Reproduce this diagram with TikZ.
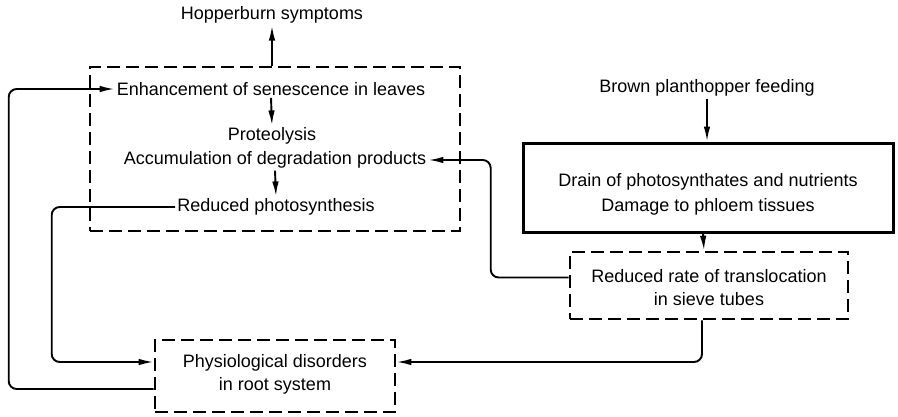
\documentclass[tikz,border=0pt]{standalone}
\usepackage{fontspec}
\setmainfont{Liberation Sans}
\usetikzlibrary{arrows.meta}
\begin{document}
\begin{tikzpicture}[x=1pt, y=-1pt, >={Latex[length=15pt,width=6.5pt]},
    every node/.style={font=\fontsize{18}{23}\selectfont, inner sep=2pt, align=center},
    dashbox/.style={draw, line width=2.6pt, dash pattern=on 13pt off 6pt, inner sep=0pt},
    solidbox/.style={draw, line width=3pt, inner sep=0pt},
    link/.style={->, line width=1.9pt}]
    \useasboundingbox (0,0) rectangle (898,416);

    % Kastenrahmen
    \node[dashbox, minimum width=370pt, minimum height=164pt] (leaf) at (275,149) {};
    \node[solidbox, minimum width=370pt, minimum height=89pt] (drain) at (708,187.5) {};
    \node[dashbox, minimum width=278pt, minimum height=67pt] (sieve) at (709,285.5) {};
    \node[dashbox, minimum width=240pt, minimum height=72pt] (root) at (275,376) {};

    % Texte
    \node (hop) at (272,15) {Hopperburn symptoms};
    \node (enh) at (271,89) {Enhancement of senescence in leaves};
    \node (prot) at (272,136) {Proteolysis};
    \node (accum) at (275,160) {Accumulation of degradation products};
    \node (redph) at (276,207) {Reduced photosynthesis};
    \node (bph) at (707,88) {Brown planthopper feeding};
    \node[font=\fontsize{18}{25}\selectfont] (draintxt) at (708,194) {Drain of photosynthates and nutrients\\Damage to phloem tissues};
    \node (sievetxt) at (709,288) {Reduced rate of translocation\\in sieve tubes};
    \node (roottxt) at (275,374) {Physiological disorders\\in root system};

    % Pfeile
    \draw[link] (hop.south |- leaf.north) -- (hop.south);
    \draw[link] (enh.south) -- (prot.north);
    \draw[link] (accum.south) -- (redph.north);
    \draw[link] (bph.south) -- (bph.south |- drain.north);
    \draw[link] ([xshift=-5pt]drain.south) -- ([xshift=-5pt]sieve.north);
    \draw[link, rounded corners=8pt] ([yshift=8pt]sieve.west) -- ++(-78,0) |- (accum.east);
    \draw[link, rounded corners=8pt] ([xshift=-7pt]sieve.south) |- ([yshift=14pt]root.east);
    \draw[link, rounded corners=8pt] (redph.west) -| ([xshift=-102pt,yshift=14pt]root.west) -- ([yshift=14pt]root.west);
    \draw[link, rounded corners=8pt] ([yshift=-13pt]root.west) -- ++(-145,0) |- (enh.west);
\end{tikzpicture}
\end{document}
